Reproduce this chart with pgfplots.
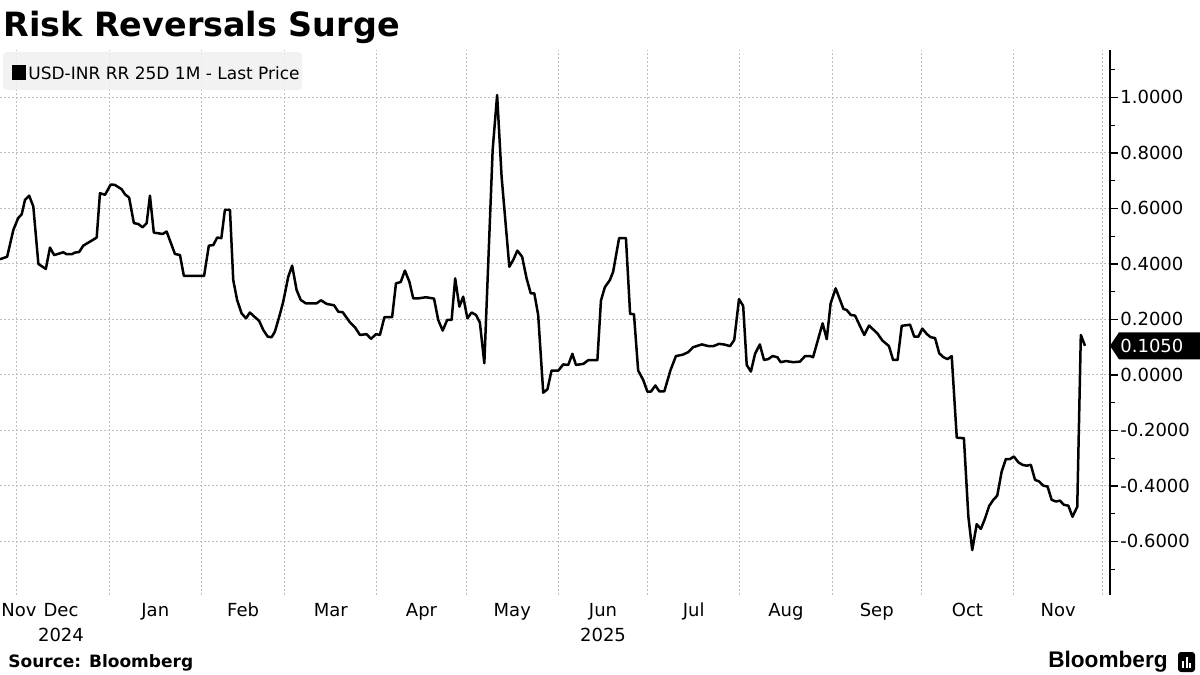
\documentclass[border=0pt]{standalone}
\usepackage{pgfplots}
\pgfplotsset{compat=1.18}
\usepackage{fontspec}
\setmainfont{DejaVu Sans}
\newfontfamily\logofont{Liberation Sans}
\definecolor{gridgray}{HTML}{BEBEBE}
\definecolor{legendbg}{HTML}{F0F0F0}

\begin{document}
\begin{tikzpicture}[x=1pt,y=1pt]
% x = days since 1 Dec 2024, y = risk reversal
\begin{axis}[
  at={(0pt,0pt)}, anchor=south west,
  x=1.4875pt, y=138.75pt,
  xmin=-5.7, xmax=367.4, ymin=-0.793, ymax=1.171,
  axis line style={draw=none},
  clip=false,
  xtick={0.7,14.8,46.5,76,105.5,136,166.5,197,227.5,258.5,289,319.5,350},
  xticklabels={Nov,{Dec\\2024},Jan,Feb,Mar,Apr,May,{Jun\\2025},Jul,Aug,Sep,Oct,Nov},
  xticklabel style={align=center, font=\fontsize{9}{12.5}\selectfont, yshift=3.5pt},
  major x tick style={draw=none},
  minor xtick={0,31,62,90,121,151,182,212,243,274,304,335,365},
  minor x tick style={draw=none},
  xminorgrids,
  minor x grid style={gridgray, line width=0.5pt, dash pattern=on 1pt off 1pt},
  ytick={-0.6,-0.4,-0.2,0,0.2,0.4,0.6,0.8,1.0},
  yticklabels={-0.6000,-0.4000,-0.2000,0.0000,0.2000,0.4000,0.6000,0.8000,1.0000},
  minor ytick={-0.7,-0.5,-0.3,-0.1,0.1,0.3,0.5,0.7,0.9,1.1},
  ytick pos=right, yticklabel pos=right,
  yticklabel style={anchor=west, inner sep=0pt, xshift=1pt, font=\fontsize{9}{11}\selectfont},
  tick align=outside,
  major tick length=4pt, minor tick length=2.5pt,
  every tick/.style={black, line width=0.6pt},
  ymajorgrids,
  major y grid style={gridgray, line width=0.5pt, dash pattern=on 1pt off 1pt},
]
\draw[black, line width=0.8pt] (rel axis cs:1,0) -- (rel axis cs:1,1);
\addplot[black, line width=1.25pt, line join=round] coordinates {
(-5.7,0.417) (-3.3,0.426) (-1.2,0.523) (0.4,0.565) (1.6,0.579) (2.7,0.631) (4.1,0.646) (5.5,0.607) (7.2,0.400) (9.7,0.382)
(11.1,0.459) (12.5,0.432) (15.6,0.442) (16.7,0.435) (18.4,0.435) (19.5,0.441) (20.9,0.443) (22.3,0.466) (25.1,0.484) (26.8,0.495)
(27.9,0.655) (29.6,0.649) (31.5,0.686) (32.9,0.685) (35.2,0.669) (36.3,0.651) (37.7,0.639) (39.3,0.547) (40.8,0.544) (42.2,0.532)
(43.6,0.547) (44.7,0.646) (46.0,0.513) (49.0,0.508) (50.3,0.517) (53.1,0.436) (54.8,0.432) (56.1,0.357) (62.9,0.357) (64.5,0.466)
(66.0,0.468) (67.3,0.495) (68.7,0.493) (69.9,0.595) (71.6,0.595) (72.7,0.342) (74.0,0.270) (75.5,0.222) (77.0,0.204) (78.3,0.225)
(80.0,0.208) (81.4,0.195) (82.8,0.162) (84.3,0.138) (85.6,0.136) (86.7,0.156) (88.4,0.219) (89.5,0.264) (91.2,0.354) (92.5,0.394)
(94.0,0.306) (95.4,0.270) (97.1,0.258) (100.7,0.258) (102.2,0.269) (104.1,0.256) (106.6,0.251) (108.0,0.228) (109.5,0.226) (111.9,0.190)
(113.6,0.172) (115.3,0.144) (117.5,0.147) (119.0,0.130) (120.7,0.147) (122.0,0.144) (123.5,0.208) (126.1,0.208) (127.4,0.330) (129.0,0.335)
(130.4,0.376) (131.9,0.336) (133.2,0.276) (134.9,0.276) (137.5,0.280) (140.2,0.275) (141.6,0.198) (143.1,0.160) (144.6,0.198) (146.1,0.198)
(147.3,0.348) (148.7,0.246) (150.0,0.282) (151.4,0.204) (152.8,0.225) (154.3,0.216) (155.6,0.189) (157.1,0.042) (159.9,0.811) (161.4,1.009)
(162.9,0.715) (165.5,0.390) (166.8,0.414) (168.2,0.448) (169.8,0.426) (171.3,0.348) (172.7,0.294) (173.9,0.294) (175.2,0.216) (176.9,-0.064)
(178.3,-0.052) (179.7,0.016) (182.0,0.016) (183.6,0.038) (185.3,0.036) (186.7,0.076) (187.9,0.036) (190.4,0.040) (192.0,0.053) (195.1,0.053)
(196.3,0.268) (197.6,0.316) (199.3,0.342) (200.4,0.372) (202.4,0.493) (204.7,0.493) (206.1,0.220) (207.4,0.219) (208.8,0.016) (210.5,-0.018)
(211.9,-0.060) (213.1,-0.060) (214.6,-0.038) (215.9,-0.059) (217.6,-0.059) (219.7,0.018) (221.5,0.068) (223.8,0.073) (225.6,0.082) (227.3,0.100)
(230.2,0.110) (232.4,0.104) (234.1,0.104) (236.0,0.112) (237.6,0.110) (239.7,0.104) (241.1,0.126) (242.7,0.273) (244.1,0.249) (245.3,0.036)
(246.7,0.012) (248.1,0.076) (249.7,0.110) (251.1,0.054) (252.5,0.057) (254.0,0.068) (255.6,0.064) (256.7,0.046) (258.5,0.050) (260.9,0.046)
(263.2,0.048) (264.9,0.068) (266.6,0.068) (267.6,0.064) (270.8,0.186) (272.2,0.129) (273.5,0.258) (275.2,0.312) (277.8,0.238) (278.9,0.234)
(280.3,0.216) (281.7,0.214) (284.8,0.144) (286.4,0.178) (289.2,0.150) (290.9,0.124) (293.1,0.104) (294.5,0.054) (296.0,0.054) (297.4,0.177)
(300.2,0.181) (301.6,0.138) (303.0,0.138) (304.3,0.167) (305.8,0.148) (307.1,0.136) (308.6,0.133) (310.0,0.078) (311.4,0.064) (312.8,0.057)
(314.2,0.068) (315.9,-0.226) (318.3,-0.228) (319.8,-0.511) (321.1,-0.631) (322.6,-0.538) (324.0,-0.555) (325.4,-0.517) (326.8,-0.472) (328.2,-0.450)
(329.5,-0.435) (331.0,-0.348) (332.4,-0.303) (333.8,-0.303) (335.1,-0.294) (336.6,-0.315) (338.0,-0.324) (339.4,-0.327) (340.8,-0.324) (342.2,-0.378)
(343.6,-0.384) (345.0,-0.399) (346.4,-0.402) (347.8,-0.450) (349.2,-0.456) (350.6,-0.453) (351.9,-0.468) (353.4,-0.471) (354.8,-0.511) (356.4,-0.475)
(357.6,0.144) (359.0,0.105)
};
\end{axis}

% title
\node[anchor=base west, inner sep=0pt, font=\fontsize{16.7}{20}\selectfont\bfseries] at (1.5,279) {Risk Reversals Surge};

% legend
\fill[legendbg, fill opacity=0.85, rounded corners=2pt] (1.5,252.5) rectangle (151,271.5);
\fill[black] (6,257.5) rectangle (13,265);
\node[anchor=base west, inner sep=0pt, font=\fontsize{8.5}{10}\selectfont] at (14,257.5) {USD-INR RR 25D 1M - Last Price};

% last price tag
\fill[black] (555,124.6) -- (559.5,131.35) -- (600,131.35) -- (600,117.85) -- (559.5,117.85) -- cycle;
\node[anchor=west, inner sep=0pt, text=white, font=\fontsize{9}{11}\selectfont] at (560,124.6) {0.1050};

% footer
\node[anchor=base west, inner sep=0pt, font=\fontsize{8.5}{10}\selectfont\bfseries] at (4,-36) {Source: Bloomberg};
\node[anchor=base east, inner sep=0pt, font=\logofont\fontsize{11.3}{13}\selectfont\bfseries] at (584,-36) {Bloomberg};
\fill[black, rounded corners=1.5pt] (589,-38.5) rectangle (597.5,-28.5);
\fill[white] (591,-36.5) rectangle (592,-33);
\fill[white] (592.8,-36.5) rectangle (593.8,-31);
\fill[white] (594.6,-36.5) rectangle (595.6,-34);

\pgfresetboundingbox
\useasboundingbox (0,-40) rectangle (600,297.5);
\end{tikzpicture}
\end{document}
